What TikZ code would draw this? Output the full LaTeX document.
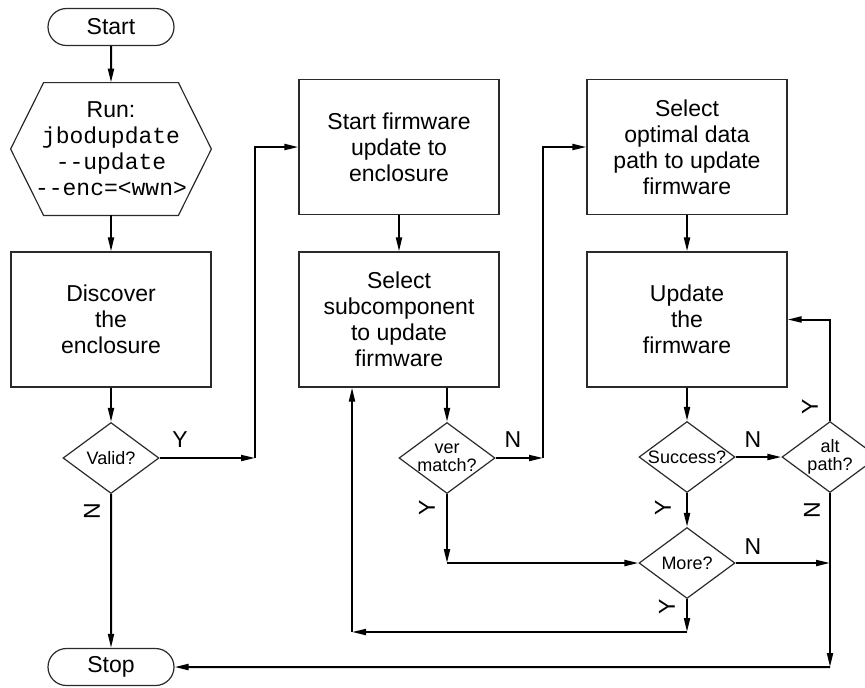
\documentclass[tikz,border=0pt]{standalone}
\usepackage{fontspec}
\setmainfont{Liberation Sans}
\setmonofont{Liberation Mono}
\usepackage{xcolor,tikz}
\usetikzlibrary{arrows.meta,shapes.geometric,shapes.misc}
\definecolor{fcBoxLine}{HTML}{2A2A2A}
\definecolor{fcFlowLine}{HTML}{000000}
\newcommand{\fcBoxFont}{\fontsize{11.5}{13}\selectfont}
\newcommand{\fcDecFont}{\fontsize{9}{9}\selectfont}
\tikzset{
  proc box/.style={
    draw=fcBoxLine, line width=0.6pt,
    minimum width=100pt, minimum height=67.5pt,
    align=center, font=\fcBoxFont, inner sep=2pt,
  },
  term box/.style={
    rounded rectangle, draw=fcBoxLine, line width=0.6pt,
    minimum width=63pt, minimum height=18.5pt,
    font=\fcBoxFont, inner sep=0pt,
  },
  dec box/.style={
    diamond, aspect=1.35, draw=fcBoxLine, line width=0.6pt,
    minimum width=48pt, minimum height=35.5pt, inner sep=-1pt,
    align=center, font=\fcDecFont,
  },
  flow arrow/.style={
    draw=fcFlowLine, line width=1pt,
    -{Triangle[length=7pt, width=3pt]},
  },
  yn label/.style={font=\fcBoxFont, inner sep=0pt},
}

\begin{document}
\begin{tikzpicture}[x=0.5pt, y=-0.5pt]
\useasboundingbox (0,0) rectangle (865,687);

% Left column: start, command, discovery
\node[term box] (start) at (111,27) {Start};
\node[minimum width=100pt, minimum height=66pt, align=center,
      font=\fcBoxFont, inner sep=0pt] (run) at (111,149)
  {Run:\\\texttt{jbodupdate}\\\texttt{-{}-update}\\\texttt{-{}-enc=<wwn>}};
% hexagon outline round the command
\draw[fcBoxLine, line width=0.6pt]
  (run.west) -- ([xshift=16.5pt]run.north west) -- ([xshift=-16.5pt]run.north east)
  -- (run.east) -- ([xshift=-16.5pt]run.south east) -- ([xshift=16.5pt]run.south west) -- cycle;
\node[proc box] (disc) at (111,319.5) {Discover\\the\\enclosure};
\node[dec box] (valid) at (111,458) {Valid?};
\node[term box] (stop) at (111,667) {Stop};

% Middle column
\node[proc box] (startfw) at (399,147) {Start firmware\\update to\\enclosure};
\node[proc box] (selsub) at (399,319.5) {Select\\subcomponent\\to update\\firmware};
\node[dec box] (vermatch) at (447,458) {ver\\match?};

% Right column
\node[proc box] (selpath) at (687,147) {Select\\optimal data\\path to update\\firmware};
\node[proc box] (upd) at (687,319.5) {Update\\the\\firmware};
\node[dec box] (success) at (687,457) {Success?};
\node[dec box] (more) at (687,563) {More?};
\node[dec box] (altpath) at (830,457) {alt\\path?};

% Bends of the connectors
\coordinate (validY) at (255,458);
\coordinate (verN) at (543,458);
\coordinate (verY) at (447,563);
\coordinate (moreN) at (830,563);
\coordinate (moreY) at (687,632);
\coordinate (loopL) at (352,632);
\coordinate (altN) at (830,667);

% Connectors
\draw[flow arrow] (start) -- (run);
\draw[flow arrow] (run) -- (disc);
\draw[flow arrow] (disc) -- (valid);
\draw[flow arrow] (valid) -- (validY);
\draw[flow arrow] (validY) |- (startfw);
\draw[flow arrow] (valid) -- (stop);
\draw[flow arrow] (startfw) -- (selsub);
\draw[flow arrow] (selsub.south -| vermatch) -- (vermatch);
\draw[flow arrow] (vermatch) -- (verN);
\draw[flow arrow] (verN) |- (selpath);
\draw[flow arrow] (vermatch) -- (verY);
\draw[flow arrow] (verY) -- (more);
\draw[flow arrow] (selpath) -- (upd);
\draw[flow arrow] (upd) -- (success);
\draw[flow arrow] (success) -- (altpath);
\draw[flow arrow] (success) -- (more);
\draw[flow arrow] (altpath) |- (upd);
\draw[flow arrow] (altpath) -- (altN);
\draw[flow arrow] (altN) -- (stop);
\draw[flow arrow] (more) -- (moreN);
\draw[flow arrow] (more) -- (moreY);
\draw[flow arrow] (moreY) -- (loopL);
\draw[flow arrow] (loopL) -- (loopL |- selsub.south);

% Y / N labels
\node[yn label] (validYl) at (180,440) {Y};
\node[yn label, rotate=90] (validNl) at (92,511) {N};
\node[yn label] (verNl) at (513,440) {N};
\node[yn label, rotate=90] (verYl) at (427,508) {Y};
\node[yn label] (successNl) at (753,440) {N};
\node[yn label, rotate=90] (successYl) at (663,508) {Y};
\node[yn label, rotate=90] (altYl) at (810,407) {Y};
\node[yn label, rotate=90] (altNl) at (812,510) {N};
\node[yn label] (moreNl) at (753,547) {N};
\node[yn label, rotate=90] (moreYl) at (667,607) {Y};

\end{tikzpicture}
\end{document}
